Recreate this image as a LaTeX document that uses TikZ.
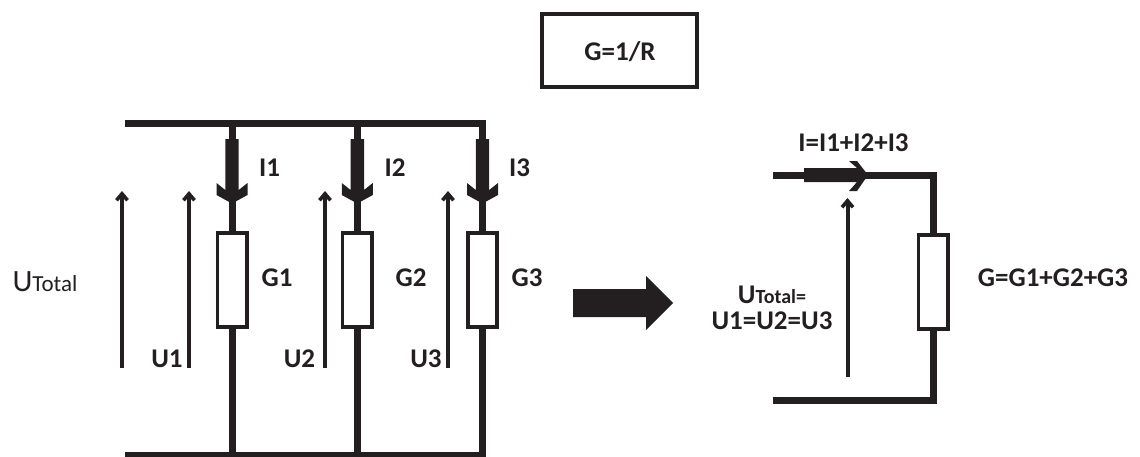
\documentclass[tikz,border=0pt]{standalone}
\usepackage{fontspec}
\setmainfont{Carlito}
\usetikzlibrary{arrows.meta}
\definecolor{ink}{HTML}{231F20}
\tikzset{
  wire/.style={draw=ink,line width=7pt},
  res/.style={draw=ink,line width=3.6pt,fill=white,minimum width=29.4pt,minimum height=94.4pt,inner sep=0pt},
  volt/.style={draw=ink,line width=4pt,-{Straight Barb[length=6.5pt,width=11pt,line width=3.6pt]}},
  lab/.style={text=ink,font=\bfseries\fontsize{27}{27}\selectfont,inner sep=0pt,anchor=center}
}
\newcommand{\downflow}[1]{\fill[ink] (#1-6.7,139)--(#1+6.7,139)--(#1+6.7,190)--(#1+15.5,183)--(#1+15.5,195)--(#1,203.5)--(#1-15.5,195)--(#1-15.5,183)--(#1-6.7,190)--cycle;}
\begin{document}
\begin{tikzpicture}[x=1pt,y=-1pt]
\useasboundingbox (0,0) rectangle (1140,456);
% formula box
\node[draw=ink,line width=3.6pt,minimum width=155.5pt,minimum height=73.5pt,inner sep=0pt] (box) at (619.5,50.5) {};
\node[lab] (boxlab) at (620,52) {G=1/R};
% left circuit
\coordinate (tl) at (125,123); \coordinate (tr) at (486,123);
\coordinate (bl) at (125,455); \coordinate (br) at (486,455);
\coordinate (t1) at (232,123); \coordinate (t2) at (357.3,123); \coordinate (t3) at (482.5,123);
\coordinate (b1) at (232,455); \coordinate (b2) at (357.3,455); \coordinate (b3) at (482.5,455);
\node[res] (g1) at (232,280) {};
\node[res] (g2) at (357.3,280) {};
\node[res] (g3) at (482.5,280) {};
\draw[wire] (tl)--(tr);
\draw[wire] (bl)--(br);
\draw[wire] (t1)--(g1.north); \draw[wire] (g1.south)--(b1);
\draw[wire] (t2)--(g2.north); \draw[wire] (g2.south)--(b2);
\draw[wire] (t3)--(g3.north); \draw[wire] (g3.south)--(b3);
\downflow{232}\downflow{357.3}\downflow{482.5}
% voltage arrows
\coordinate (v0a) at (122,368); \coordinate (v0b) at (122,191);
\coordinate (v1a) at (189,368); \coordinate (v1b) at (189,191);
\coordinate (v2a) at (325,368); \coordinate (v2b) at (325,191);
\coordinate (v3a) at (448,368); \coordinate (v3b) at (448,191);
\draw[volt] (v0a)--(v0b);
\draw[volt] (v1a)--(v1b);
\draw[volt] (v2a)--(v2b);
\draw[volt] (v3a)--(v3b);
% labels
\node[lab] (i1) at (269.5,168) {I1};
\node[lab] (i2) at (395,168) {I2};
\node[lab] (i3) at (519.5,168) {I3};
\node[lab] (lg1) at (277,278) {G1};
\node[lab] (lg2) at (411,278) {G2};
\node[lab] (lg3) at (527,278) {G3};
\node[lab] (u1) at (167,359) {U1};
\node[lab] (u2) at (299.5,359) {U2};
\node[lab] (u3) at (426,359) {U3};
\node[text=ink,inner sep=0pt] (ut) at (45,282) {\fontsize{31}{31}\selectfont U\fontsize{23}{24}\selectfont Total};
% big arrow
\fill[ink] (573,289)--(646,289)--(646,276)--(673,303)--(646,330)--(646,317)--(573,317)--cycle;
% right circuit
\node[res] (g) at (933,282) {};
\coordinate (rt) at (773,175); \coordinate (rc) at (933,175);
\coordinate (rb) at (773,400); \coordinate (rd) at (933,400);
\draw[wire] (rt)--(rc)--(g.north);
\draw[wire] (g.south)--(rd)--(rb);
\fill[ink] (804,168)--(857,168)--(849,161)--(857,161)--(868,175)--(857,191)--(849,191)--(857,182)--(804,182)--cycle;
\coordinate (v4a) at (847.5,377); \coordinate (v4b) at (847.5,198);
\draw[volt] (v4a)--(v4b);
\node[lab] (itot) at (853.5,143) {I=I1+I2+I3};
\node[lab] (gtot) at (1053,278) {G=G1+G2+G3};
\node[lab,align=center] (eq) at (772,308) {\fontsize{27}{27}\selectfont U\fontsize{20}{20}\selectfont Total=\\[-1pt]\fontsize{27}{27}\selectfont U1=U2=U3};
\end{tikzpicture}
\end{document}
